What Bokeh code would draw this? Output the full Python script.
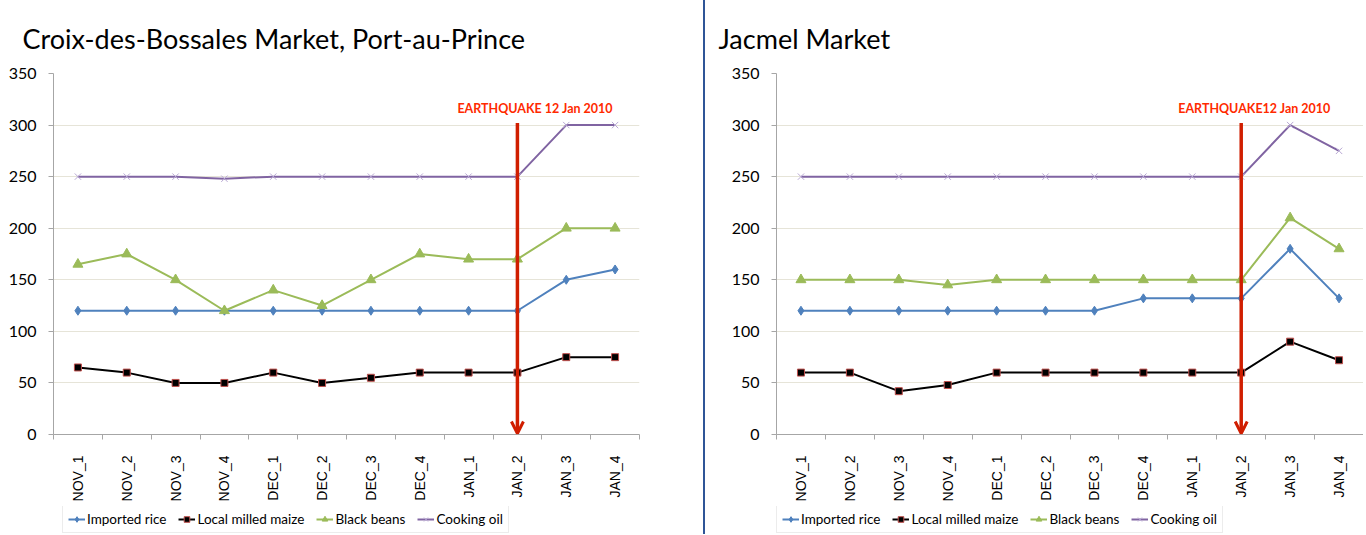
import numpy as np
from bokeh.plotting import figure
from bokeh.models import (Range1d, FixedTicker, Legend, LegendItem, Arrow, OpenHead,
                          Label)
from bokeh.layouts import row, column
from bokeh.embed import file_html
from bokeh.resources import INLINE

# ---------------- data ----------------
weeks = ["NOV_1", "NOV_2", "NOV_3", "NOV_4", "DEC_1", "DEC_2", "DEC_3", "DEC_4",
         "JAN_1", "JAN_2", "JAN_3", "JAN_4"]
series_names = ["Imported rice", "Local milled maize", "Black beans", "Cooking oil"]
y_ticks = [0, 50, 100, 150, 200, 250, 300, 350]
quake_week = "JAN_2"

pap_title = "Croix-des-Bossales Market, Port-au-Prince"
pap_note = "EARTHQUAKE 12 Jan 2010"
pap_rice = [120, 120, 120, 120, 120, 120, 120, 120, 120, 120, 150, 160]
pap_maize = [65, 60, 50, 50, 60, 50, 55, 60, 60, 60, 75, 75]
pap_beans = [165, 175, 150, 120, 140, 125, 150, 175, 170, 170, 200, 200]
pap_oil = [250, 250, 250, 248, 250, 250, 250, 250, 250, 250, 300, 300]

jac_title = "Jacmel Market"
jac_note = "EARTHQUAKE12 Jan 2010"
jac_rice = [120, 120, 120, 120, 120, 120, 120, 132, 132, 132, 180, 132]
jac_maize = [60, 60, 42, 48, 60, 60, 60, 60, 60, 60, 90, 72]
jac_beans = [150, 150, 150, 145, 150, 150, 150, 150, 150, 150, 210, 180]
jac_oil = [250, 250, 250, 250, 250, 250, 250, 250, 250, 250, 300, 275]

# ---------------- styles ----------------
LINE_COLORS = ["#4F81BD", "#000000", "#9BBB59", "#8064A2"]
MARKERS = ["diamond", "square", "triangle", "x"]
M_FILL = ["#4F81BD", "#000000", "#9BBB59", "#B9A9D4"]
M_LINE = ["#4F81BD", "#C0504D", "#9BBB59", "#B9A9D4"]
M_SIZE = [9, 7, 10, 9]
RED = "#D01E00"
GRID = "#E6E4D8"
AXIS = "#A6A6A6"
DIVIDER = "2px solid #2F5597"
H = 506      # chart height
LH = 28      # legend strip height


def make_chart(title, note, series, width, border_left, border_right,
               title_offset, note_dx):
    p = figure(width=width, height=H, output_backend="svg", toolbar_location=None,
               x_range=Range1d(0, len(weeks)), y_range=Range1d(0, 350),
               min_border_left=border_left, min_border_right=border_right,
               min_border_top=71, min_border_bottom=H - 434, title=title)
    p.outline_line_color = None

    p.title.align = "left"
    p.title.vertical_align = "bottom"
    p.title.offset = title_offset
    p.title.standoff = 38
    p.title.text_font = "Lato"
    p.title.text_font_size = "27px"
    p.title.text_font_style = "normal"
    p.title.text_color = "#000000"

    xs = np.arange(len(weeks)) + 0.5
    p.xaxis.ticker = FixedTicker(ticks=list(xs), minor_ticks=list(range(len(weeks) + 1)))
    p.xaxis.major_label_overrides = {float(v): w for v, w in zip(xs, weeks)}
    p.xaxis.major_label_orientation = np.pi / 2
    p.xaxis.major_tick_out = 0
    p.xaxis.major_tick_in = 0
    p.xaxis.minor_tick_out = 5
    p.xaxis.minor_tick_in = 0
    p.xaxis.minor_tick_line_color = AXIS
    p.xaxis.axis_line_color = AXIS
    p.xaxis.major_label_text_font = "Liberation Sans"
    p.xaxis.major_label_text_font_size = "14px"
    p.xaxis.major_label_text_color = "#000000"
    p.xaxis.major_label_standoff = 16

    p.yaxis.ticker = FixedTicker(ticks=y_ticks)
    p.yaxis.major_tick_out = 5
    p.yaxis.major_tick_in = 0
    p.yaxis.minor_tick_line_color = None
    p.yaxis.major_tick_line_color = AXIS
    p.yaxis.axis_line_color = AXIS
    p.yaxis.major_label_text_font = "Lato"
    p.yaxis.major_label_text_font_size = "16px"
    p.yaxis.major_label_text_color = "#000000"
    p.yaxis.major_label_standoff = 12

    p.xgrid.visible = False
    p.ygrid.grid_line_color = GRID

    for i, vals in enumerate(series):
        p.line(xs, vals, line_color=LINE_COLORS[i], line_width=2)
        p.scatter(xs, vals, marker=MARKERS[i], size=M_SIZE[i],
                  fill_color=M_FILL[i], line_color=M_LINE[i], line_width=1)

    xq = float(xs[weeks.index(quake_week)])
    p.add_layout(Arrow(end=OpenHead(size=12, line_color=RED, line_width=3),
                       x_start=xq, y_start=302, x_end=xq, y_end=1,
                       line_color=RED, line_width=3.5))
    p.add_layout(Label(x=xq, y=316, x_offset=note_dx, text=note,
                       text_font="Lato", text_font_style="bold",
                       text_font_size="12.5px", text_color="#FF2A00",
                       text_baseline="middle", text_align="left"))
    return p


def make_legend_strip(width, legend_x, series):
    # the strip's ranges lie far from the data, so only the legend shows
    lf = figure(width=width, height=LH, output_backend="svg", toolbar_location=None,
                x_axis_type=None, y_axis_type=None,
                x_range=Range1d(0, len(weeks)), y_range=Range1d(1000, 1001),
                min_border=0)
    lf.outline_line_color = None
    xs = np.arange(len(weeks)) + 0.5
    items = []
    for i, (name, vals) in enumerate(zip(series_names, series)):
        lr = lf.line(xs, vals, line_color=LINE_COLORS[i], line_width=2)
        sr = lf.scatter(xs, vals, marker=MARKERS[i], size=M_SIZE[i] - 1,
                        fill_color=M_FILL[i], line_color=M_LINE[i], line_width=1)
        items.append(LegendItem(label=name, renderers=[lr, sr]))
    leg = Legend(items=items, orientation="horizontal", location=(legend_x, 1),
                 border_line_color="#D9D9D9", border_line_width=1,
                 background_fill_color="white", background_fill_alpha=1.0,
                 label_text_font="Lato", label_text_font_size="13.5px",
                 label_text_color="#000000", glyph_width=17, glyph_height=14,
                 label_standoff=2, spacing=12, padding=5, margin=0)
    lf.add_layout(leg)
    return lf


pap_series = [pap_rice, pap_maize, pap_beans, pap_oil]
jac_series = [jac_rice, jac_maize, jac_beans, jac_oil]

p1 = make_chart(pap_title, pap_note, pap_series,
                width=703, border_left=53, border_right=64, title_offset=-31,
                note_dx=-60)
l1 = make_legend_strip(703, 9, pap_series)
p2 = make_chart(jac_title, jac_note, jac_series,
                width=660, border_left=71, border_right=2, title_offset=-58,
                note_dx=-63)
l2 = make_legend_strip(660, 0, jac_series)
p2.styles = {"border-left": DIVIDER}
l2.styles = {"border-left": DIVIDER}

layout = row(column(p1, l1), column(p2, l2))
open("out.html", "w").write(file_html(layout, INLINE))
